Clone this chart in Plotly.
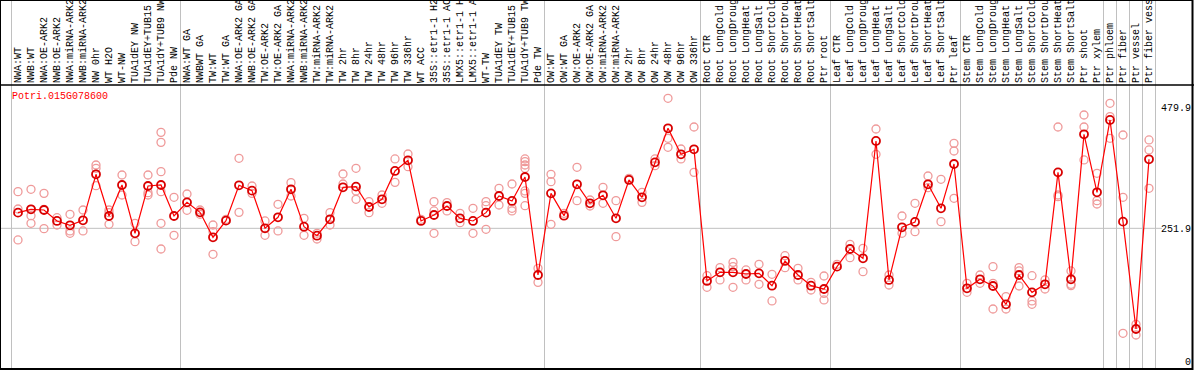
import plotly.graph_objects as go

# ---------------- data ----------------
title_text = "Potri.015G078600"

categories = [
    "NWA:WT", "NWB:WT", "NWA:OE-ARK2", "NWB:OE-ARK2", "NWA:miRNA-ARK2", "NWB:miRNA-ARK2",
    "NW 0hr", "WT H2O", "WT-NW", "TUA1dEY NW", "TUA1dEY+TUB15 NW", "TUA1dY+TUB9 NW", "Pde NW",
    "NWA:WT GA", "NWBWT GA", "TW:WT", "TW:WT GA", "NWA:OE-ARK2 GA", "NWB:OE-ARK2 GA",
    "TW:OE-ARK2", "TW:OE-ARK2 GA", "NWA:miRNA-ARK2", "NWB:miRNA-ARK2", "TW:miRNA-ARK2",
    "TW:miRNA-ARK2", "TW 2hr", "TW 8hr", "TW 24hr", "TW 48hr", "TW 96hr", "TW 336hr",
    "WT ACC", "35S::etr1-1 H2O", "35S::etr1-1 ACC", "LMX5::etr1-1 H2O", "LMX5::etr1-1 ACC",
    "WT-TW", "TUA1dEY TW", "TUA1dEY+TUB15 TW", "TUA1dY+TUB9 TW", "Pde TW",
    "OW:WT", "OW:WT GA", "OW:OE-ARK2", "OW:OE-ARK2 GA", "OW:miRNA-ARK2", "OW:miRNA-ARK2",
    "OW 2hr", "OW 8hr", "OW 24hr", "OW 48hr", "OW 96hr", "OW 336hr",
    "Root CTR", "Root LongCold", "Root LongDrought", "Root LongHeat", "Root LongSalt",
    "Root ShortCold", "Root ShortDrought", "Root ShortHeat", "Root ShortSalt", "Ptr root",
    "Leaf CTR", "Leaf LongCold", "Leaf LongDrought", "Leaf LongHeat", "Leaf LongSalt",
    "Leaf ShortCold", "Leaf ShortDrought", "Leaf ShortHeat", "Leaf ShortSalt", "Ptr leaf",
    "Stem CTR", "Stem LongCold", "Stem LongDrought", "Stem LongHeat", "Stem LongSalt",
    "Stem ShortCold", "Stem ShortDrought", "Stem ShortHeat", "Stem ShortSalt", "Ptr shoot",
    "Ptr xylem", "Ptr phloem", "Ptr fiber", "Ptr vessel", "Ptr fiber vessel",
]

# number of categories in each separated group
group_sizes = [13, 28, 12, 10, 10, 11, 1, 1, 1, 1]

means = [
    281.5, 287.8, 286.5, 265.8, 257.6, 267.0, 354.0, 275.2, 333.8, 242.4, 331.9, 333.8, 275.2,
    301.0, 282.1, 234.9, 266.4, 333.2, 323.1, 251.9, 272.7, 325.6, 255.0, 238.0, 268.9, 329.4,
    330.7, 292.2, 306.7, 360.3, 380.4, 265.8, 277.1, 294.1, 270.8, 265.8, 281.5, 313.0, 303.6,
    348.9, 163.7,
    318.0, 275.8, 335.1, 299.2, 314.3, 270.8, 343.3, 310.5, 376.6, 440.9, 391.8, 401.2,
    152.4, 168.7, 168.7, 165.6, 166.8, 143.5, 190.2, 163.7, 143.5, 137.2,
    179.5, 212.8, 195.2, 417.0, 154.3, 253.8, 263.9, 335.1, 289.7, 373.5,
    138.5, 155.5, 142.9, 108.3, 163.7, 130.9, 146.1, 357.7, 155.5, 429.6, 320.0,
    456.7, 264.5, 61.6, 382.3,
]

replicates = [
    [321.2, 288.4, 229.9], [325.6, 275.8, 261.4, 287.8], [318.0, 287.8, 251.3], [272.0, 258.2],
    [278.4, 246.9, 242.5], [286.5, 246.9], [371.6, 365.3, 332.5], [286.5, 259.5, 281.5],
    [352.7, 314.9], [261.4, 226.7], [352.7, 314.9, 319.3],
    [433.3, 414.4, 359.0, 321.2, 261.4, 212.8], [310.5, 238.7],
    [316.8, 285.9], [286.5, 278.4], [258.2, 202.8, 245.6], [268.9], [384.2, 282.1],
    [331.9, 318.0], [265.8, 238.7], [297.3, 246.9], [338.2, 313.0], [270.8, 238.7],
    [242.5, 231.7], [281.5, 258.2], [354.6, 335.7], [365.3, 322.5, 306.7], [302.3, 281.5],
    [314.9, 299.2], [383.0, 338.8], [392.4, 368.4], [268.9], [302.3, 284.7, 242.5],
    [300.4, 284.7], [280.3, 262.6], [289.7, 242.5], [302.3, 294.7, 250.0], [327.5, 296.0],
    [335.7, 289.7, 284.7], [383.0, 377.9, 371.6, 365.3, 322.5, 318.0, 294.7], [176.3, 149.8],
    [354.0, 340.1, 259.5], [280.3], [367.2, 304.2], [305.4, 294.1], [329.4, 299.2],
    [304.2, 236.2], [346.4], [319.9, 301.0], [383.0, 370.3], [497.6, 422.0, 405.0],
    [401.8, 383.0], [443.4, 357.7],
    [162.4, 140.4], [177.6, 154.3], [187.6, 179.5, 140.4], [173.2, 154.3], [183.9, 146.1],
    [165.0, 114.6], [200.2, 177.6], [176.3, 154.3], [149.8, 135.3], [161.8, 129.0, 116.5],
    [183.9], [221.7, 196.5], [214.1, 170.0], [439.6, 391.8], [163.7, 144.8], [275.2, 242.5],
    [299.2, 245.6], [350.8, 328.8], [344.5, 264.5], [412.5, 398.0, 308.6],
    [148.0, 131.0], [163.7, 148.0], [179.5, 148.0, 99.4], [122.8, 99.4], [177.6, 171.3, 142.9],
    [162.4, 114.6, 108.3], [154.3, 137.2], [443.4, 314.9, 311.7], [171.3, 146.1, 143.6],
    [466.1, 443.4, 381.1], [355.9, 304.2, 297.9],
    [488.2, 463.0, 422.0], [428.3, 310.5, 53.5], [70.5, 50.3], [418.9, 400.0, 327.5],
]

y_tick_vals = [0, 251.9, 479.9]
y_tick_text = ["0", "251.9", "479.9"]
grid_value = 251.9

# ---------------- layout geometry ----------------
W, H = 1194, 370
HEADER = 85          # px height of label header
BOTTOM = 369         # px of bottom frame
X0PX, STEP = 18.0, 13.0
ZERO_PX = 361.6
VAL_PER_PX = 1.89

FONT = "Liberation Mono"

idx = list(range(len(categories)))
rep_x, rep_y = [], []
for i, reps in enumerate(replicates):
    for v in reps:
        rep_x.append(i)
        rep_y.append(v)

fig = go.Figure()
fig.add_trace(go.Scatter(
    x=rep_x, y=rep_y, mode="markers",
    marker=dict(symbol="circle-open", size=8, color="#ef9a9a", line=dict(width=1.3, color="#ef9a9a")),
    showlegend=False, hoverinfo="skip",
))
fig.add_trace(go.Scatter(
    x=idx, y=means, mode="lines+markers",
    line=dict(color="#ff0000", width=1.2),
    marker=dict(symbol="circle-open", size=8, color="#d80000", line=dict(width=1.8, color="#d80000")),
    showlegend=False,
))

# axis ranges to map pixels
x_range = [(-X0PX) / STEP, (W - X0PX) / STEP]
y_top_val = (ZERO_PX - HEADER) * VAL_PER_PX
y_bot_val = (ZERO_PX - H) * VAL_PER_PX
dom_top = (H - HEADER) / H

shapes = []
# group separators
b = -0.5
bounds = [b]
for g in group_sizes:
    b += g
    bounds.append(b)
for bx in bounds:
    shapes.append(dict(type="line", xref="x", yref="paper", x0=bx, x1=bx, y0=(H - BOTTOM) / H, y1=1,
                       line=dict(color="#c0c0c0", width=1), layer="below"))
# horizontal grid line
shapes.append(dict(type="line", xref="paper", yref="y", x0=0, x1=1162 / W, y0=grid_value, y1=grid_value,
                   line=dict(color="#c0c0c0", width=1), layer="below"))
# header line
shapes.append(dict(type="line", xref="paper", yref="paper", x0=0, x1=1, y0=dom_top, y1=dom_top,
                   line=dict(color="black", width=1.5)))
# outer frame
shapes.append(dict(type="rect", xref="paper", yref="paper", x0=0, x1=1192.5 / W, y0=(H - BOTTOM) / H, y1=1,
                   line=dict(color="black", width=2)))

fig.update_layout(
    width=W, height=H,
    margin=dict(l=0, r=0, t=0, b=0),
    paper_bgcolor="white", plot_bgcolor="white",
    shapes=shapes,
    xaxis=dict(range=x_range, side="top", tickmode="array", tickvals=idx, ticktext=categories,
               tickangle=-90, ticks="", showgrid=False, zeroline=False, showline=False,
               tickfont=dict(family=FONT, size=10, color="black"), automargin=False,
               ticklabelstandoff=1),
    yaxis=dict(domain=[0, dom_top], range=[y_bot_val, y_top_val], side="right",
               ticklabelposition="inside", tickmode="array", tickvals=y_tick_vals, ticktext=y_tick_text,
               ticks="", showgrid=False, zeroline=False, showline=False,
               tickfont=dict(family=FONT, size=10, color="black"), automargin=False),
    annotations=[dict(text=title_text, xref="paper", yref="paper", x=10 / W, y=(H - 96) / H,
                      xanchor="left", yanchor="middle", showarrow=False,
                      font=dict(family=FONT, size=10, color="#ff0000"))],
)

fig.write_html("out.html", config={"displayModeBar": False},
               post_script="document.body.style.margin='0';document.body.style.padding='0';")
